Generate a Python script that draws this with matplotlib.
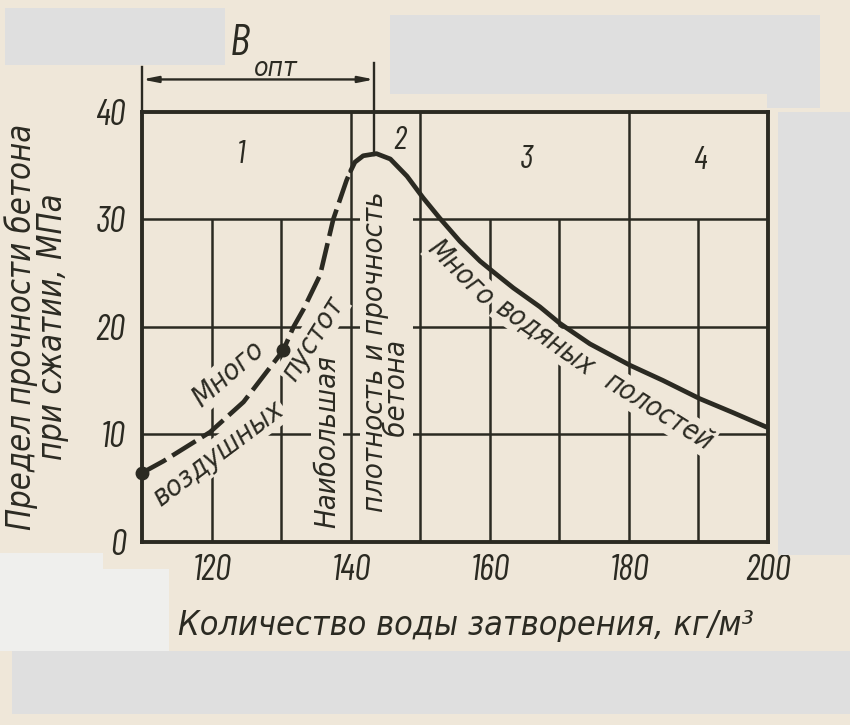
import matplotlib
matplotlib.use('Agg')
import matplotlib.pyplot as plt
from matplotlib.patches import Rectangle

# ---------------- data ----------------
water_dashed = [110, 113.1, 119.8, 124.6, 130.3, 131.8, 133.2, 135.6, 137.5, 139.4, 140.0]
strength_dashed = [6.4, 7.5, 10.2, 13.0, 17.8, 20.0, 21.6, 24.8, 30.0, 33.6, 34.5]
water_solid = [140.0, 140.6, 141.8, 143.7, 145.7, 148.1, 150.4, 152.8, 155.7, 158.6,
               160.5, 163.4, 167.2, 170.1, 174.4, 180.2, 184.9, 190.2, 195.0, 200]
strength_solid = [34.5, 35.3, 35.9, 36.1, 35.6, 34.0, 32.0, 30.1, 27.95, 26.1,
                  25.1, 23.6, 21.85, 20.3, 18.4, 16.4, 15.0, 13.3, 12.0, 10.6]
marker_water = [110, 130.3]
marker_strength = [6.4, 17.8]
x_ticks = [120, 140, 160, 180, 200]
y_ticks = [0, 10, 20, 30, 40]
grid_x_low = [120, 130, 160, 170, 190]
zone_bounds = [140, 150, 180]
grid_y = [10, 20, 30]
zone_labels = ['1', '2', '3', '4']
zone_x = [124.2, 147.1, 165.2, 190.2]
zone_y = [36.0, 37.3, 35.5, 35.4]
b_opt_water = 143.4

BG = '#efe7d9'
INK = '#2b2a22'

NUMF = ['Barlow Condensed', 'DejaVu Sans']
TXTF = 'DejaVu Sans'

fig = plt.figure(figsize=(8.5, 7.25), dpi=100)
fig.patch.set_facecolor(BG)
W, H = 850.0, 725.0
ax = fig.add_axes([142 / W, 1 - 541.7 / H, (768 - 142) / W, (541.7 - 111.7) / H])
ax.set_facecolor(BG)
ax.set_xlim(110, 200)
ax.set_ylim(0, 40)

for s in ax.spines.values():
    s.set_linewidth(2.8)
    s.set_color(INK)
    s.set_zorder(4)

ax.vlines(grid_x_low, 0, 30, color=INK, lw=1.8, zorder=1)
ax.vlines(zone_bounds, 0, 40, color=INK, lw=1.8, zorder=1)
ax.hlines(grid_y, 110, 200, color=INK, lw=1.8, zorder=1)

ax.plot(water_dashed, strength_dashed, color=INK, lw=3.3, ls=(0, (6, 1.6)),
        zorder=3, solid_capstyle='butt')
ax.plot(water_solid, strength_solid, color=INK, lw=3.4, zorder=3,
        solid_capstyle='round', solid_joinstyle='round')
ax.plot(marker_water, marker_strength, 'o', color=INK, ms=9, zorder=3, clip_on=False)

ax.set_xticks(x_ticks)
ax.set_yticks(y_ticks)
tfont = dict(family=NUMF, style='italic', size=26, color=INK, stretch='condensed')
ax.set_xticklabels([str(v) for v in x_ticks], **tfont)
ax.set_yticklabels([str(v) for v in y_ticks], **tfont)
ax.tick_params(axis='x', length=0, pad=9)
ax.tick_params(axis='y', length=0, pad=12)

for lab, xx, yy in zip(zone_labels, zone_x, zone_y):
    ax.text(xx, yy, lab, ha='center', va='center', fontsize=24, style='italic',
            family=NUMF, stretch='condensed', color=INK, zorder=2)

kb = dict(boxstyle='square,pad=0.06', fc=BG, ec='none')
lf = dict(family=TXTF, style='oblique', stretch='condensed', color=INK, zorder=2,
          bbox=kb, ha='center', va='center', rotation_mode='anchor', fontsize=21)
ax.text(122.4, 15.6, 'Много', rotation=41, **lf)
ax.text(121.0, 8.2, 'воздушных', rotation=37, **lf)
ax.text(134.6, 18.9, 'пустот', rotation=58, **lf)
ax.text(136.6, 9.3, 'Наибольшая', rotation=90, **lf)
ax.text(145.1, 17.7, 'плотность и прочность\n' + ' ' * 9 + 'бетона', rotation=90,
        multialignment='left', linespacing=0.7, **lf)
lf['fontsize'] = 20
ax.text(155.9, 25.0, 'Много', rotation=-45, **lf)
ax.text(168.0, 19.1, 'водяных', rotation=-35, **lf)
ax.text(184.3, 12.1, 'полостей', rotation=-32, **lf)

# B_opt dimension
ax.plot([110, 110], [40, 44.2], color=INK, lw=1.7, clip_on=False, zorder=3)
ax.plot([b_opt_water, b_opt_water], [36.0, 44.5], color=INK, lw=1.7, clip_on=False, zorder=3)
ax.annotate('', xy=(b_opt_water, 43.0), xytext=(110, 43.0), annotation_clip=False,
            arrowprops=dict(arrowstyle='<|-|>,head_length=0.9,head_width=0.18',
                            color=INK, lw=1.7, shrinkA=0, shrinkB=0))
ax.text(124.0, 46.3, 'B', fontsize=32, style='italic', family=NUMF, stretch='condensed',
        color=INK, ha='center', va='center')
ax.text(129.3, 44.0, 'опт', fontsize=19, style='oblique', family=TXTF, stretch='condensed',
        color=INK, ha='center', va='center')

fig.text(36.5 / W, 1 - 327 / H, 'Предел прочности бетона\nпри сжатии, МПа', rotation=90,
         ha='center', va='center', multialignment='center', fontsize=23.5,
         style='oblique', stretch='condensed', family=TXTF, color=INK, linespacing=0.95)
fig.text(466 / W, 1 - 625 / H, 'Количество воды затворения, кг/м³', ha='center',
         va='center', fontsize=24.5, style='oblique', stretch='condensed', family=TXTF,
         color=INK)

# grey masking boxes of the scan
def box(x0, y0, x1, y1, c):
    fig.add_artist(Rectangle((x0 / W, 1 - y1 / H), (x1 - x0) / W, (y1 - y0) / H,
                             transform=fig.transFigure, fc=c, ec='none', zorder=10))

G1 = '#dfdfdf'
G2 = '#efefed'
box(5, 8, 225, 65, G1)
box(390, 15, 820, 94, G1)
box(767, 94, 820, 108, G1)
box(778, 112, 850, 555, G1)
box(0, 553, 103, 651, G2)
box(100, 569, 169, 664, G2)
box(12, 651, 850, 714, G1)

fig.savefig('out.png', dpi=100, facecolor=BG)
